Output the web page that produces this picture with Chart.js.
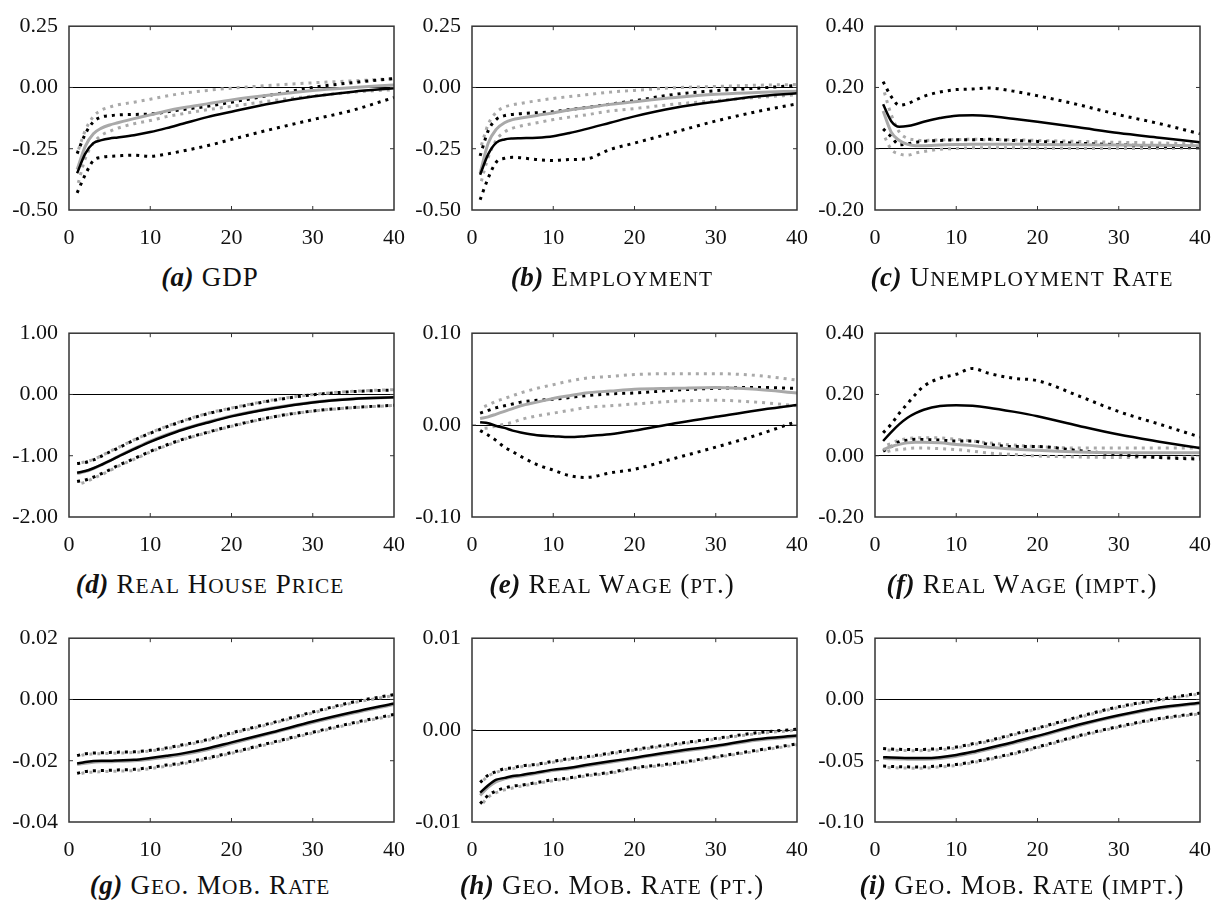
<!DOCTYPE html>
<html>
<head>
<meta charset="utf-8">
<script src="https://cdn.jsdelivr.net/npm/chart.js@4.4.1/dist/chart.umd.min.js"></script>
<style>
  body { margin: 0; background: #fff; }
  #page { position: relative; width: 1227px; height: 902px; overflow: hidden; }
  canvas { position: absolute; }
  .cap { position: absolute; width: 420px; height: 30px; line-height: 30px; text-align: center;
         font-family: "Liberation Serif", serif; font-size: 27px; color: #111; letter-spacing: 1px; white-space: nowrap; }
  .cap b { letter-spacing: 0.5px; }
  .sc { font-size: 0.79em; }
</style>
</head>
<body>
<div id="page"></div>
<script>
const periods = [1, 2, 3, 4, 5, 6, 8, 10, 12, 14, 17, 20, 25, 30, 35, 40];

// (a) GDP
const gdpBlack   = [-0.350, -0.270, -0.227, -0.215, -0.208, -0.204, -0.195, -0.182, -0.166, -0.148, -0.121, -0.099, -0.064, -0.037, -0.017, -0.003];
const gdpBlackHi = [-0.270, -0.190, -0.140, -0.120, -0.115, -0.112, -0.110, -0.108, -0.100, -0.090, -0.077, -0.060, -0.030, 0.000, 0.020, 0.036];
const gdpBlackLo = [-0.430, -0.356, -0.298, -0.285, -0.281, -0.279, -0.276, -0.281, -0.272, -0.259, -0.238, -0.212, -0.170, -0.131, -0.092, -0.041];
const gdpGray    = [-0.335, -0.240, -0.189, -0.166, -0.153, -0.144, -0.127, -0.112, -0.096, -0.083, -0.067, -0.051, -0.030, -0.012, 0.000, 0.010];
const gdpGrayHi  = [-0.270, -0.176, -0.118, -0.092, -0.080, -0.071, -0.060, -0.048, -0.035, -0.024, -0.012, -0.003, 0.009, 0.019, 0.027, 0.036];
const gdpGrayLo  = [-0.407, -0.290, -0.227, -0.195, -0.179, -0.166, -0.148, -0.135, -0.119, -0.107, -0.091, -0.077, -0.054, -0.035, -0.019, -0.009];

// (b) Employment
const empBlack   = [-0.356, -0.272, -0.225, -0.212, -0.208, -0.207, -0.205, -0.199, -0.186, -0.170, -0.144, -0.118, -0.083, -0.058, -0.037, -0.024];
const empBlackHi = [-0.279, -0.176, -0.130, -0.115, -0.110, -0.107, -0.103, -0.099, -0.090, -0.082, -0.068, -0.054, -0.028, -0.013, -0.003, 0.008];
const empBlackLo = [-0.458, -0.369, -0.304, -0.289, -0.285, -0.287, -0.294, -0.298, -0.294, -0.292, -0.253, -0.227, -0.182, -0.137, -0.099, -0.067];
const empGray    = [-0.350, -0.227, -0.170, -0.144, -0.131, -0.125, -0.114, -0.104, -0.092, -0.083, -0.069, -0.058, -0.041, -0.028, -0.021, -0.015];
const empGrayHi  = [-0.253, -0.150, -0.101, -0.080, -0.071, -0.065, -0.054, -0.045, -0.037, -0.030, -0.019, -0.012, -0.001, 0.004, 0.009, 0.012];
const empGrayLo  = [-0.400, -0.285, -0.214, -0.182, -0.166, -0.157, -0.144, -0.131, -0.121, -0.112, -0.096, -0.086, -0.068, -0.054, -0.041, -0.030];

// (c) Unemployment rate
const unBlack   = [0.145, 0.090, 0.072, 0.074, 0.080, 0.088, 0.100, 0.108, 0.109, 0.107, 0.098, 0.088, 0.070, 0.051, 0.036, 0.021];
const unBlackHi = [0.219, 0.170, 0.142, 0.147, 0.159, 0.171, 0.185, 0.193, 0.195, 0.198, 0.188, 0.173, 0.144, 0.111, 0.082, 0.049];
const unBlackLo = [0.065, 0.039, 0.013, 0.016, 0.021, 0.024, 0.027, 0.029, 0.029, 0.031, 0.027, 0.024, 0.018, 0.013, 0.008, 0.005];
const unGray    = [0.123, 0.054, 0.027, 0.014, 0.010, 0.010, 0.012, 0.014, 0.015, 0.015, 0.015, 0.014, 0.013, 0.012, 0.011, 0.010];
const unGrayHi  = [0.198, 0.111, 0.054, 0.034, 0.029, 0.027, 0.029, 0.030, 0.031, 0.029, 0.029, 0.027, 0.024, 0.021, 0.019, 0.015];
const unGrayLo  = [0.049, -0.002, -0.017, -0.021, -0.014, -0.009, -0.002, 0.001, 0.003, 0.003, 0.003, 0.002, 0.001, 0.001, 0.001, 0.002];

// (d) Real house price
const hpBlack   = [-1.277, -1.250, -1.204, -1.147, -1.085, -1.017, -0.893, -0.773, -0.669, -0.576, -0.462, -0.358, -0.228, -0.130, -0.073, -0.047];
const hpBlackHi = [-1.126, -1.110, -1.069, -1.007, -0.939, -0.877, -0.747, -0.633, -0.529, -0.436, -0.317, -0.228, -0.099, -0.005, 0.047, 0.073];
const hpBlackLo = [-1.422, -1.396, -1.350, -1.292, -1.230, -1.162, -1.048, -0.929, -0.825, -0.732, -0.618, -0.514, -0.368, -0.270, -0.213, -0.176];
const hpGray    = [-1.290, -1.260, -1.210, -1.150, -1.085, -1.015, -0.885, -0.763, -0.658, -0.566, -0.452, -0.350, -0.222, -0.126, -0.070, -0.045];
const hpGrayHi  = [-1.120, -1.100, -1.060, -1.000, -0.930, -0.870, -0.740, -0.625, -0.520, -0.430, -0.310, -0.220, -0.092, 0.000, 0.052, 0.078];
const hpGrayLo  = [-1.470, -1.430, -1.370, -1.310, -1.245, -1.175, -1.060, -0.940, -0.835, -0.740, -0.625, -0.520, -0.372, -0.272, -0.215, -0.180];

// (e) Real wage (pt.)
const wptBlack   = [0.003, 0.002, -0.001, -0.003, -0.006, -0.008, -0.011, -0.012, -0.013, -0.012, -0.010, -0.006, 0.002, 0.009, 0.016, 0.022];
const wptBlackHi = [0.013, 0.016, 0.019, 0.021, 0.023, 0.025, 0.027, 0.028, 0.030, 0.032, 0.034, 0.035, 0.038, 0.040, 0.041, 0.040];
const wptBlackLo = [-0.006, -0.011, -0.017, -0.024, -0.029, -0.034, -0.043, -0.049, -0.055, -0.057, -0.052, -0.048, -0.036, -0.024, -0.011, 0.004];
const wptGray    = [0.007, 0.009, 0.012, 0.015, 0.018, 0.021, 0.025, 0.029, 0.032, 0.035, 0.037, 0.039, 0.040, 0.041, 0.039, 0.035];
const wptGrayHi  = [0.018, 0.022, 0.026, 0.029, 0.032, 0.035, 0.040, 0.044, 0.048, 0.051, 0.053, 0.055, 0.056, 0.056, 0.054, 0.049];
const wptGrayLo  = [-0.004, -0.003, -0.001, 0.001, 0.003, 0.006, 0.010, 0.013, 0.016, 0.019, 0.021, 0.023, 0.026, 0.027, 0.025, 0.021];

// (f) Real wage (impt.)
const wimBlack   = [0.048, 0.077, 0.103, 0.124, 0.139, 0.150, 0.162, 0.165, 0.163, 0.157, 0.144, 0.129, 0.098, 0.069, 0.046, 0.025];
const wimBlackHi = [0.075, 0.103, 0.139, 0.170, 0.201, 0.227, 0.253, 0.266, 0.285, 0.269, 0.253, 0.245, 0.196, 0.144, 0.103, 0.061];
const wimBlackLo = [0.015, 0.030, 0.046, 0.051, 0.054, 0.053, 0.051, 0.048, 0.048, 0.037, 0.030, 0.030, 0.017, 0.004, -0.006, -0.011];
const wimGray    = [0.020, 0.030, 0.037, 0.042, 0.044, 0.044, 0.042, 0.037, 0.033, 0.028, 0.022, 0.018, 0.012, 0.010, 0.010, 0.010];
const wimGrayHi  = [0.030, 0.040, 0.051, 0.056, 0.058, 0.059, 0.058, 0.054, 0.048, 0.042, 0.035, 0.030, 0.025, 0.025, 0.025, 0.025];
const wimGrayLo  = [0.009, 0.017, 0.020, 0.023, 0.025, 0.025, 0.023, 0.020, 0.015, 0.009, 0.004, -0.001, -0.004, -0.006, -0.006, -0.004];

// (g) Geo. mob. rate
const mobBlack   = [-0.0209, -0.0204, -0.0201, -0.0200, -0.0200, -0.0199, -0.0197, -0.0191, -0.0184, -0.0176, -0.0160, -0.0140, -0.0107, -0.0072, -0.0041, -0.0013];
const mobBlackHi = [-0.0183, -0.0177, -0.0175, -0.0174, -0.0173, -0.0172, -0.0171, -0.0166, -0.0158, -0.0148, -0.0131, -0.0109, -0.0076, -0.0041, -0.0008, 0.0016];
const mobBlackLo = [-0.0241, -0.0235, -0.0233, -0.0232, -0.0231, -0.0230, -0.0228, -0.0222, -0.0214, -0.0207, -0.0191, -0.0173, -0.0140, -0.0107, -0.0076, -0.0049];
const mobGray    = [-0.0212, -0.0208, -0.0205, -0.0203, -0.0203, -0.0202, -0.0200, -0.0195, -0.0188, -0.0180, -0.0164, -0.0144, -0.0110, -0.0075, -0.0044, -0.0016];
const mobGrayHi  = [-0.0186, -0.0180, -0.0178, -0.0177, -0.0176, -0.0175, -0.0173, -0.0168, -0.0161, -0.0151, -0.0134, -0.0112, -0.0079, -0.0044, -0.0011, 0.0013];
const mobGrayLo  = [-0.0245, -0.0239, -0.0237, -0.0236, -0.0235, -0.0234, -0.0232, -0.0226, -0.0218, -0.0210, -0.0194, -0.0176, -0.0143, -0.0110, -0.0079, -0.0052];

// (h) Geo. mob. rate (pt.)
const mptBlack   = [-0.0068, -0.0060, -0.0054, -0.0052, -0.0050, -0.0049, -0.0046, -0.0043, -0.0041, -0.0038, -0.0034, -0.0030, -0.0023, -0.0017, -0.0010, -0.0006];
const mptBlackHi = [-0.0057, -0.0049, -0.0045, -0.0042, -0.0041, -0.0039, -0.0037, -0.0034, -0.0031, -0.0029, -0.0025, -0.0021, -0.0015, -0.0009, -0.0003, 0.0001];
const mptBlackLo = [-0.0080, -0.0071, -0.0066, -0.0063, -0.0061, -0.0060, -0.0057, -0.0054, -0.0052, -0.0049, -0.0046, -0.0041, -0.0036, -0.0029, -0.0022, -0.0015];
const mptGray    = [-0.0071, -0.0062, -0.0056, -0.0053, -0.0051, -0.0050, -0.0047, -0.0044, -0.0042, -0.0039, -0.0035, -0.0031, -0.0024, -0.0018, -0.0011, -0.0007];
const mptGrayHi  = [-0.0058, -0.0050, -0.0046, -0.0043, -0.0042, -0.0040, -0.0038, -0.0035, -0.0032, -0.0030, -0.0026, -0.0022, -0.0016, -0.0010, -0.0004, 0.0000];
const mptGrayLo  = [-0.0083, -0.0073, -0.0068, -0.0065, -0.0063, -0.0061, -0.0058, -0.0055, -0.0053, -0.0050, -0.0047, -0.0042, -0.0037, -0.0030, -0.0023, -0.0016];

// (i) Geo. mob. rate (impt.)
const mimBlack   = [-0.0471, -0.0474, -0.0476, -0.0477, -0.0478, -0.0478, -0.0471, -0.0453, -0.0427, -0.0396, -0.0349, -0.0297, -0.0207, -0.0129, -0.0065, -0.0026];
const mimBlackHi = [-0.0400, -0.0405, -0.0407, -0.0408, -0.0409, -0.0408, -0.0400, -0.0388, -0.0362, -0.0336, -0.0284, -0.0233, -0.0142, -0.0059, 0.0000, 0.0052];
const mimBlackLo = [-0.0543, -0.0547, -0.0549, -0.0550, -0.0551, -0.0550, -0.0541, -0.0530, -0.0509, -0.0484, -0.0440, -0.0388, -0.0297, -0.0220, -0.0155, -0.0111];
const mimGray    = [-0.0480, -0.0484, -0.0486, -0.0487, -0.0488, -0.0488, -0.0482, -0.0464, -0.0438, -0.0406, -0.0358, -0.0305, -0.0214, -0.0136, -0.0072, -0.0032];
const mimGrayHi  = [-0.0410, -0.0414, -0.0416, -0.0417, -0.0418, -0.0417, -0.0410, -0.0396, -0.0370, -0.0343, -0.0291, -0.0240, -0.0149, -0.0066, -0.0007, 0.0046];
const mimGrayLo  = [-0.0553, -0.0557, -0.0559, -0.0560, -0.0561, -0.0560, -0.0551, -0.0539, -0.0517, -0.0491, -0.0447, -0.0395, -0.0304, -0.0227, -0.0162, -0.0118];

// captions and y axis ranges [min, max, step]
const captions = ["GDP", "Employment", "Unemployment Rate", "Real House Price", "Real Wage (pt.)",
                  "Real Wage (impt.)", "Geo. Mob. Rate", "Geo. Mob. Rate (pt.)", "Geo. Mob. Rate (impt.)"];
const yRanges = [[-0.5, 0.25, 0.25], [-0.5, 0.25, 0.25], [-0.2, 0.4, 0.2],
                 [-2, 1, 1], [-0.1, 0.1, 0.1], [-0.2, 0.4, 0.2],
                 [-0.04, 0.02, 0.02], [-0.01, 0.01, 0.01], [-0.1, 0.05, 0.05]];
const xTicks = [0, 40, 10];

const panels = [
  [gdpBlack, gdpGray, gdpBlackHi, gdpBlackLo, gdpGrayHi, gdpGrayLo],
  [empBlack, empGray, empBlackHi, empBlackLo, empGrayHi, empGrayLo],
  [unBlack, unGray, unBlackHi, unBlackLo, unGrayHi, unGrayLo],
  [hpBlack, hpGray, hpBlackHi, hpBlackLo, hpGrayHi, hpGrayLo],
  [wptBlack, wptGray, wptBlackHi, wptBlackLo, wptGrayHi, wptGrayLo],
  [wimBlack, wimGray, wimBlackHi, wimBlackLo, wimGrayHi, wimGrayLo],
  [mobBlack, mobGray, mobBlackHi, mobBlackLo, mobGrayHi, mobGrayLo],
  [mptBlack, mptGray, mptBlackHi, mptBlackLo, mptGrayHi, mptGrayLo],
  [mimBlack, mimGray, mimBlackHi, mimBlackLo, mimGrayHi, mimGrayLo],
];

// layout
const plotLefts = [69, 472, 875];
const plotTops = [16, 323, 628];
const plotW = 329, plotH = 194;
const yAxisW = 66, padTop = 14, padRight = 22, xAxisH = 42;
const capCenters = [210, 612, 1022];
const capOffsets = [67, 67, 63];

const GRAY = "#a9a9a9";
const tickFont = { family: "Liberation Serif", size: 22 };

// box around the plot area with small inward ticks
const framePlugin = {
  id: "frame",
  afterDatasetsDraw(chart) {
    const { ctx, chartArea: a, scales: { x, y } } = chart;
    ctx.save();
    ctx.strokeStyle = "#333";
    ctx.lineWidth = 1;
    ctx.beginPath();
    x.ticks.forEach(t => {
      if (t.value <= x.min || t.value >= x.max) return;
      const px = x.getPixelForValue(t.value);
      ctx.moveTo(px, a.bottom); ctx.lineTo(px, a.bottom - 4);
      ctx.moveTo(px, a.top); ctx.lineTo(px, a.top + 4);
    });
    y.ticks.forEach(t => {
      if (t.value <= y.min || t.value >= y.max) return;
      const py = y.getPixelForValue(t.value);
      ctx.moveTo(a.left, py); ctx.lineTo(a.left + 4, py);
      ctx.moveTo(a.right, py); ctx.lineTo(a.right - 4, py);
    });
    ctx.stroke();
    ctx.lineWidth = 1.5;
    ctx.strokeRect(a.left, a.top, a.right - a.left, a.bottom - a.top);
    ctx.restore();
  }
};

function toPoints(values) {
  return values.map((v, i) => ({ x: periods[i], y: v }));
}

function solid(values, color, width) {
  return { data: toPoints(values), borderColor: color, borderWidth: width, pointRadius: 0, fill: false };
}

function dotted(values, color, offset) {
  return { data: toPoints(values), borderColor: color, borderWidth: 3, borderDash: [3, 5],
           borderDashOffset: offset, borderCapStyle: "butt", pointRadius: 0, fill: false };
}

function capsHtml(label) {
  return label.replace(/[a-z]+/g, m => `<span class="sc">${m.toUpperCase()}</span>`);
}

const page = document.getElementById("page");
const letters = "abcdefghi";

panels.forEach((series, i) => {
  const col = i % 3, row = Math.floor(i / 3);
  const [yMin, yMax, yStep] = yRanges[i];

  const canvas = document.createElement("canvas");
  canvas.width = yAxisW + plotW + padRight;
  canvas.height = padTop + plotH + xAxisH;
  canvas.style.left = (plotLefts[col] - yAxisW) + "px";
  canvas.style.top = (plotTops[row] - padTop) + "px";
  page.appendChild(canvas);

  const [black, gray, blackHi, blackLo, grayHi, grayLo] = series;

  new Chart(canvas.getContext("2d"), {
    type: "line",
    data: {
      datasets: [
        solid(black, "#000", 2.5),
        solid(gray, GRAY, 3),
        dotted(blackHi, "#000", 0),
        dotted(blackLo, "#000", 0),
        dotted(grayHi, GRAY, 3.5),
        dotted(grayLo, GRAY, 3.5),
      ]
    },
    options: {
      responsive: false,
      animation: false,
      devicePixelRatio: 1,
      layout: { padding: { top: padTop, right: padRight, left: 0, bottom: 0 } },
      elements: { line: { cubicInterpolationMode: "monotone" } },
      plugins: { legend: { display: false }, tooltip: { enabled: false } },
      scales: {
        x: {
          type: "linear", min: xTicks[0], max: xTicks[1],
          ticks: { stepSize: xTicks[2], padding: 15, font: tickFont, color: "#111", maxRotation: 0 },
          grid: { display: false, drawTicks: false },
          border: { display: false },
          afterFit: s => { s.height = xAxisH; }
        },
        y: {
          min: yMin, max: yMax,
          ticks: {
            stepSize: yStep, padding: 11, font: tickFont, color: "#111",
            callback: v => (Math.abs(v) < 1e-12 ? 0 : v).toFixed(2)
          },
          grid: {
            drawTicks: false, lineWidth: 1,
            color: c => (c.tick && Math.abs(c.tick.value) < 1e-12) ? "#000" : "rgba(0,0,0,0)"
          },
          border: { display: false },
          afterFit: s => { s.width = yAxisW; }
        }
      }
    },
    plugins: [framePlugin]
  });

  const cap = document.createElement("div");
  cap.className = "cap";
  cap.style.left = (capCenters[col] - 210) + "px";
  cap.style.top = (plotTops[row] + plotH + capOffsets[row] - 15) + "px";
  cap.innerHTML = `<b><i>(${letters[i]})</i></b> ${capsHtml(captions[i])}`;
  page.appendChild(cap);
});
</script>
</body>
</html>
